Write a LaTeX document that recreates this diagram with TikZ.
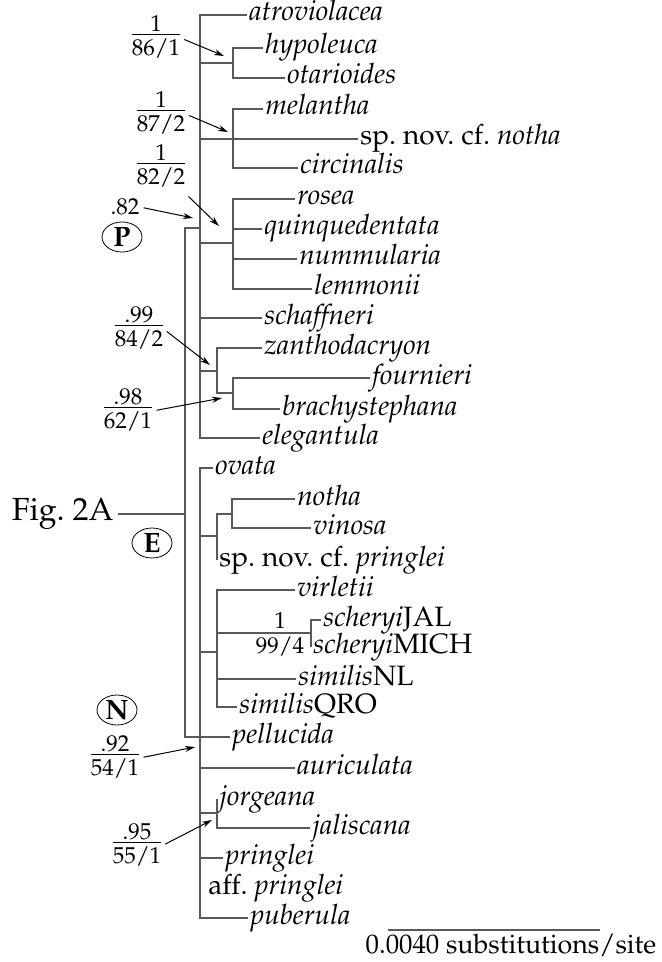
\documentclass[tikz,border=0pt]{standalone}
\usepackage[T1]{fontenc}
\usepackage{mathpazo}
\usetikzlibrary{arrows.meta,shapes.geometric}

\newcommand{\supp}[2]{\begin{tabular}{@{}c@{}}#1\\[-2.7pt]\hline\rule{0pt}{10.4pt}#2\end{tabular}}

\begin{document}
\begin{tikzpicture}[x=0.5pt, y=-0.5pt,
    every node/.style={font=\fontsize{14}{16}\selectfont},
    taxon/.style={anchor=west, inner sep=1pt, text height=9.5pt, text depth=3.5pt},
    branch/.style={draw=black!65, line width=0.75pt},
    support/.style={inner sep=0pt, font=\fontsize{11.5}{14}\selectfont},
    clade/.style={draw, ellipse, inner sep=0.5pt, minimum width=20pt, minimum height=15pt, font=\fontsize{14}{16}\selectfont\bfseries},
    pointer/.style={-{Stealth[length=5pt,width=3pt]}, line width=0.5pt, shorten <=2pt}]
    \useasboundingbox (0,0) rectangle (662,962);

    % --- backbone ---
    \coordinate (root) at (185,514);
    \coordinate (nP) at (200,228);
    \coordinate (nN) at (200,737);
    \node[anchor=east, inner sep=2pt, font=\fontsize{16}{18}\selectfont] (fig) at (118,514) {Fig.\ 2A};
    \draw[branch] (fig.east) -- (root);
    \draw[branch] (root) |- (nP);

    % --- P clade ---
    \node[taxon] (atro) at (247,15) {\textit{atroviolacea}};
    \coordinate (nHyp) at (233,63);
    \node[taxon] (hypo) at (263,48) {\textit{hypoleuca}};
    \node[taxon] (otar) at (285,78) {\textit{otarioides}};
    \coordinate (nMel) at (233,139);
    \node[taxon] (mela) at (263,109) {\textit{melantha}};
    \node[taxon] (spno) at (358,139) {sp.\ nov.\ cf.\ \textit{notha}};
    \node[taxon] (circ) at (298,168) {\textit{circinalis}};
    \coordinate (nRos) at (233,243);
    \node[taxon] (rose) at (295,199) {\textit{rosea}};
    \node[taxon] (quin) at (262,229) {\textit{quinquedentata}};
    \node[taxon] (numm) at (297,259) {\textit{nummularia}};
    \node[taxon] (lemm) at (312,289) {\textit{lemmonii}};
    \node[taxon] (scha) at (262,318) {\textit{schaffneri}};
    \coordinate (nZan) at (217,371);
    \node[taxon] (zant) at (262,348) {\textit{zanthodacryon}};
    \coordinate (nFou) at (233,393);
    \node[taxon] (four) at (370,378) {\textit{fournieri}};
    \node[taxon] (brac) at (280,409) {\textit{brachystephana}};
    \node[taxon] (eleg) at (260,438) {\textit{elegantula}};

    \foreach \t in {atro,nHyp,nMel,nRos,scha,nZan,eleg}
        \draw[branch] (nP) |- (\t);
    \foreach \t in {hypo,otar} \draw[branch] (nHyp) |- (\t);
    \foreach \t in {mela,spno,circ} \draw[branch] (nMel) |- (\t);
    \foreach \t in {rose,quin,numm,lemm} \draw[branch] (nRos) |- (\t);
    \foreach \t in {zant,nFou} \draw[branch] (nZan) |- (\t);
    \foreach \t in {four,brac} \draw[branch] (nFou) |- (\t);

    % --- N clade ---
    \node[taxon] (ovat) at (213,468) {\textit{ovata}};
    \coordinate (nE2) at (217,536);
    \coordinate (nNot) at (232,514);
    \node[taxon] (noth) at (295,499) {\textit{notha}};
    \node[taxon] (vino) at (311,528) {\textit{vinosa}};
    \node[taxon] (sppr) at (217,560) {sp.\ nov.\ cf.\ \textit{pringlei}};
    \coordinate (nVir) at (217,652);
    \node[taxon] (virl) at (295,590) {\textit{virletii}};
    \coordinate (nSch) at (311,633);
    \node[taxon] (schJ) at (321,620) {\textit{scheryi}JAL};
    \node[taxon] (schM) at (311,647) {\textit{scheryi}MICH};
    \node[taxon] (simN) at (296,679) {\textit{similis}NL};
    \node[taxon] (simQ) at (237,707) {\textit{similis}QRO};
    \node[taxon] (pell) at (230,737) {\textit{pellucida}};
    \node[taxon] (auri) at (295,768) {\textit{auriculata}};
    \coordinate (nJor) at (217,813);
    \node[taxon] (jorg) at (217,799) {\textit{jorgeana}};
    \node[taxon] (jali) at (310,828) {\textit{jaliscana}};
    \node[taxon] (prin) at (223,858) {\textit{pringlei}};
    \node[taxon] (affp) at (206,888) {aff.\ \textit{pringlei}};
    \node[taxon] (pube) at (248,918) {\textit{puberula}};

    \draw[branch] (root) |- (pell);
    \foreach \t in {ovat,nE2,nVir,auri,nJor,prin,pube}
        \draw[branch] (nN) |- (\t);
    \foreach \t in {nNot,sppr} \draw[branch] (nE2) |- (\t);
    \foreach \t in {noth,vino} \draw[branch] (nNot) |- (\t);
    \foreach \t in {virl,nSch,simN,simQ} \draw[branch] (nVir) |- (\t);
    \foreach \t in {schJ,schM} \draw[branch] (nSch) |- (\t);
    \foreach \t in {jorg,jali} \draw[branch] (nJor) |- (\t);

    % --- support values ---
    \node[support] (s1) at (156,38) {\supp{1}{86/1}};
    \node[support] (s2) at (161,114) {\supp{1}{87/2}};
    \node[support] (s3) at (161,167) {\supp{1}{82/2}};
    \node[support] (s4) at (139,329) {\supp{.99}{84/2}};
    \node[support] (s5) at (128,411) {\supp{.98}{62/1}};
    \node[support] (s6) at (115,758) {\supp{.92}{54/1}};
    \node[support] (s7) at (137,846) {\supp{.95}{55/1}};
    \node[support] (s82) at (125,207) {.82};
    \node[support] (sJ1) at (280,621) {1};
    \node[support] (sJ2) at (280,647) {99/4};

    \coordinate (t1) at (224,56);
    \coordinate (t2) at (228,132);
    \coordinate (t3) at (219,226);
    \coordinate (t4) at (210,365);
    \coordinate (t5) at (222,398);
    \coordinate (t6) at (195,747);
    \coordinate (t7) at (212,820);
    \coordinate (t82) at (193,218);
    \draw[pointer] (s1.east) -- (t1);
    \draw[pointer] (s2.east) -- (t2);
    \draw[pointer] (s3.south east) -- (t3);
    \draw[pointer] (s4.east) -- (t4);
    \draw[pointer] (s5.east) -- (t5);
    \draw[pointer] (s6.east) -- (t6);
    \draw[pointer] (s7.east) -- (t7);
    \draw[pointer] (s82.east) -- (t82);

    % clade labels
    \node[clade] (cP) at (122,237) {P};
    \node[clade] (cE) at (152,543) {E};
    \node[clade] (cN) at (117,710) {N};

    % scale bar
    \coordinate (sb1) at (388,930);
    \coordinate (sb2) at (600,930);
    \draw[branch] (sb1) -- (sb2);
    \node[inner sep=1pt, font=\fontsize{13.4}{16}\selectfont] (sbl) at (511,945) {0.0040 substitutions/site};
\end{tikzpicture}
\end{document}
